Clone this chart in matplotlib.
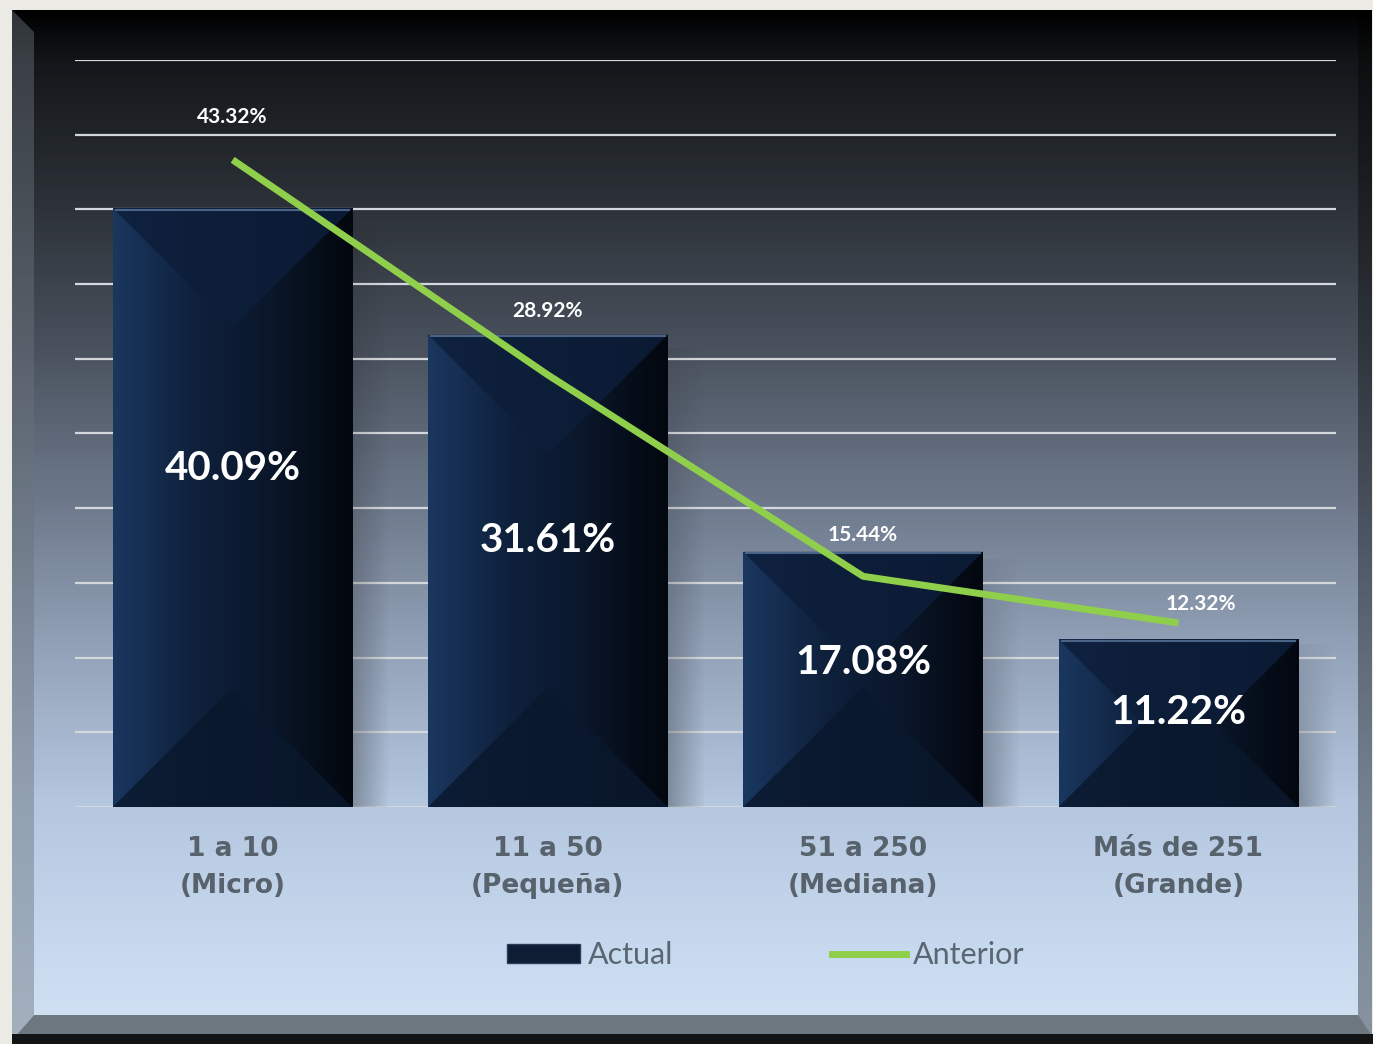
import numpy as np
import matplotlib
matplotlib.use("Agg")
import matplotlib.pyplot as plt
from matplotlib.colors import LinearSegmentedColormap
from matplotlib.patches import Polygon, Rectangle, Patch
from matplotlib.lines import Line2D

# data
categorias = ["1 a 10\n(Micro)", "11 a 50\n(Pequeña)", "51 a 250\n(Mediana)", "Más de 251\n(Grande)"]
actual = [40.09, 31.61, 17.08, 11.22]
anterior = [43.32, 28.92, 15.44, 12.32]

W, H = 1373, 1044
fig = plt.figure(figsize=(W / 100, H / 100), dpi=100)
fig.patch.set_facecolor("#eceae5")

# fondo con marco y degradado
bg = fig.add_axes([0, 0, 1, 1])
bg.axis("off")
stops = [(0.0, "#000000"), (0.05, "#14171a"), (0.18, "#2b3036"), (0.33, "#4a525e"),
         (0.48, "#6e7a8c"), (0.62, "#93a2b8"), (0.77, "#b4c7df"), (0.91, "#c6d9ee"),
         (1.0, "#d2e2f4")]
cmap_bg = LinearSegmentedColormap.from_list("bg", stops)
grad = np.linspace(0, 1, 512).reshape(-1, 1)
bg.imshow(grad, cmap=cmap_bg, extent=(12, 1372, 1040, 10), aspect="auto", zorder=0)
bg.add_patch(Polygon([(12, 10), (34, 32), (34, 1015), (12, 1040)], closed=True,
                     facecolor="#6a737c", alpha=0.45, lw=0, zorder=1))
bg.add_patch(Rectangle((1358, 10), 14, 1030, facecolor="black", alpha=0.35, lw=0, zorder=1))
bg.add_patch(Polygon([(12, 1040), (34, 1015), (1358, 1015), (1372, 1036)], closed=True,
                     facecolor="#6d7780", lw=0, zorder=2))
bg.add_patch(Rectangle((12, 1034), 1361, 10, facecolor="#121416", lw=0, zorder=2))
bg.set_xlim(0, W)
bg.set_ylim(H, 0)

# ejes principales
ax = fig.add_axes([75 / W, (H - 807) / H, 1261 / W, 747 / H])
ax.patch.set_alpha(0)
x = np.arange(len(categorias))
ancho = 0.76
px_x = 4.0 / 1261
px_y = 50.0 / 747

ax.set_yticks(np.arange(0, 51, 5))
ax.grid(axis="y", color="#d4d8dc", lw=1.6, zorder=0)
ax.set_axisbelow(True)

cmap_bar = LinearSegmentedColormap.from_list("bar", ["#1a375f", "#0f213d", "#0a1629", "#03070e"])
hgrad = np.linspace(0, 1, 256).reshape(1, -1)
barras = ax.bar(x, actual, width=ancho, color="#0d1c33", zorder=2)
for xi, h, b in zip(x, actual, barras):
    x0, x1 = xi - ancho / 2, xi + ancho / 2
    # sombra
    sh = np.zeros((64, 64, 4))
    sh[..., 3] = np.outer(np.linspace(0.3, 0.05, 64), np.linspace(1, 0, 64))
    ax.imshow(sh, extent=(x1, x1 + 0.12, 0, h * 0.97), aspect="auto", origin="lower", zorder=1)
    im = ax.imshow(hgrad, cmap=cmap_bar, extent=(x0, x1, 0, h), aspect="auto", zorder=3)
    im.set_clip_path(b)
    d = min(ancho / px_x, h / px_y) / 2
    dx, dy = d * px_x, d * px_y
    ax.add_patch(Polygon([(x0, h), (x1, h), (x1 - dx, h - dy), (x0 + dx, h - dy)],
                         facecolor="#0d1e3a", alpha=0.85, lw=0, zorder=4))
    ax.add_patch(Polygon([(x0, 0), (x1, 0), (x1 - dx, dy), (x0 + dx, dy)],
                         facecolor="#0a182d", alpha=0.85, lw=0, zorder=4))
    ax.plot([x0 + 0.01, x1 - 0.01], [h - 0.1, h - 0.1], color="#4a6488", lw=1.5, zorder=5)
    ax.text(xi, h * 0.565, f"{h:.2f}%", ha="center", va="center", color="white",
            fontsize=29, fontweight="bold", family="Lato", zorder=6)

ax.plot(x, anterior, color="#8fcf4b", lw=5, solid_capstyle="butt", zorder=7)
offsets = [(0, 31), (0, 46), (0, 30), (16.5, 13.5)]
for xi, v, off in zip(x, anterior, offsets):
    ax.annotate(f"{v:.2f}%", (xi, v), xytext=off, textcoords="offset points",
                ha="center", va="center", color="white", fontsize=15,
                fontweight="bold", family="Lato", zorder=8)

ax.set_xlim(-0.5, 3.5)
ax.set_ylim(0, 50)
ax.set_yticklabels([])
ax.set_xticks(x)
ax.set_xticklabels(categorias, fontsize=19, fontweight="bold", color="#58626d",
                   linespacing=1.55, family="DejaVu Sans")
ax.tick_params(axis="both", length=0)
ax.tick_params(axis="x", pad=21)
for s in ax.spines.values():
    s.set_visible(False)

handles = [Patch(facecolor="#0e1d33", edgecolor="#2a3d58", lw=1),
           Line2D([0], [0], color="#8fcf4b", lw=5)]
fig.legend(handles, ["Actual", "Anterior"], loc="center", bbox_to_anchor=(766 / W, 1 - 955 / H),
           ncol=2, frameon=False, prop={"family": "Lato", "size": 22}, labelcolor="#5a6672",
           handlelength=2.4, handleheight=0.6, handletextpad=0.25, columnspacing=5.2)

fig.savefig("out.png", dpi=100)
